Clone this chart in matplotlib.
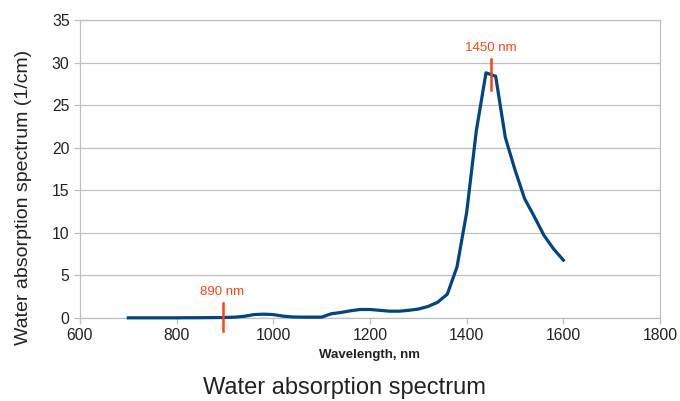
import numpy as np
import matplotlib.pyplot as plt

plt.rcParams['font.family'] = ['Liberation Sans', 'DejaVu Sans']

# wavelength (nm) and absorption (1/cm)
wavelength = [700, 720, 740, 760, 780, 800, 820, 840, 860, 880, 900, 920, 940, 960, 980,
              1000, 1020, 1040, 1060, 1080, 1100, 1120, 1140, 1160, 1180, 1200, 1220,
              1240, 1260, 1280, 1300, 1320, 1340, 1360, 1380, 1400, 1420, 1440, 1460,
              1480, 1500, 1520, 1540, 1560, 1580, 1600]
absorption = [0.02, 0.02, 0.02, 0.02, 0.02, 0.02, 0.03, 0.03, 0.04, 0.05, 0.06, 0.1, 0.2,
              0.4, 0.45, 0.4, 0.22, 0.12, 0.1, 0.1, 0.1, 0.5, 0.65, 0.85, 1.0, 1.0, 0.9,
              0.8, 0.8, 0.9, 1.05, 1.35, 1.85, 2.8, 6.0, 12.4, 22.0, 28.8, 28.4,
              21.2, 17.4, 14.0, 11.9, 9.7, 8.1, 6.8]

marker_x = [895, 1450]
marker_lo = [-1.5, 26.8]
marker_hi = [1.8, 30.4]
marker_labels = ['890 nm', '1450 nm']

fig = plt.figure(figsize=(6.8, 4.01), dpi=100)
ax = fig.add_axes([0.1176, 0.207, 0.853, 0.743])

grey = '#c0c0c0'
ax.plot(wavelength, absorption, color='#004586', lw=2.3, zorder=3, clip_on=False)

for x, lo, hi, lab in zip(marker_x, marker_lo, marker_hi, marker_labels):
    ax.plot([x, x], [lo, hi], color='#ff420e', lw=1.8, zorder=4, clip_on=False)
    ax.text(x, hi + 0.6, lab, color='#ff420e', ha='center', va='bottom', fontsize=9.5)

ax.set_xlim(600, 1800)
ax.set_ylim(0, 35)
ax.set_xticks(np.arange(600, 1801, 200))
ax.set_yticks(np.arange(0, 36, 5))
ax.grid(axis='y', color=grey, lw=0.9)
ax.set_axisbelow(True)
for s in ax.spines.values():
    s.set_color(grey)
    s.set_linewidth(0.9)
ax.tick_params(colors=grey, labelcolor='#222222', labelsize=11.3, length=4, width=0.9)

ax.set_xlabel('Wavelength, nm', fontsize=9.5, fontweight='bold', color='#222222', labelpad=4)
ax.set_ylabel('Water absorption spectrum (1/cm)', fontsize=14, color='#222222', labelpad=10)
ax.yaxis.set_label_coords(-0.082, 0.406)
fig.text(0.507, 0.032, 'Water absorption spectrum', ha='center', va='center', fontsize=17, color='#222222')

fig.savefig('out.png', dpi=100)
